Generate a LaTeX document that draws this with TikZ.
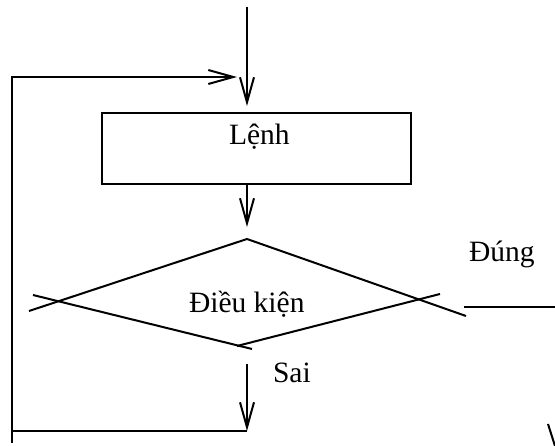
\documentclass[tikz,border=0pt]{standalone}
\usepackage{fontspec}
\setmainfont{Liberation Serif}
\usetikzlibrary{arrows.meta}
\begin{document}
\begin{tikzpicture}[x=1pt,y=-1pt,
  line width=2pt,
  ln/.style={line width=2pt},
  arr/.style={ln,-{Straight Barb[length=25pt,width=14pt,line width=2pt]}},
  txt/.style={anchor=base west,inner sep=0pt,font=\fontsize{29.5}{34}\selectfont},
  box/.style={draw,line width=2pt,minimum width=309pt,minimum height=71pt,inner sep=0pt}
]
\useasboundingbox (0,0) rectangle (555,446);
% nodes
\coordinate (start) at (247,7);
\node[box] (lenh) at (256.5,148.5) {};
\node[txt] (lenhtxt) at (228,145) {Lệnh};
\coordinate (dtop) at (247,239);
\coordinate (dleftA) at (29,311);
\coordinate (dleftB) at (33,295);
\coordinate (dbotA) at (252,349);
\coordinate (dbotB) at (237,346);
\coordinate (drightA) at (440,294);
\coordinate (drightB) at (466,316);
\node[txt] (cond) at (188,313) {Điều kiện};
\node[txt] (dung) at (468,262) {Đúng};
\node[txt] (sai) at (272,383) {Sai};
\coordinate (saistart) at (247,364);
\coordinate (saiend) at (247,431);
\coordinate (loopbl) at (12,431);
\coordinate (loopend) at (12,443);
\coordinate (looptl) at (12,77);
\coordinate (looptip) at (237,77);
\coordinate (dungA) at (464,307);
\coordinate (dungB) at (555,307);
\coordinate (cutA) at (548,424);
\coordinate (cutB) at (555,446);
% connectors
\draw[arr,shorten >=6pt] (start) -- (start |- lenh.north);
\draw[arr,shorten >=12pt] (dtop |- lenh.south) -- (dtop);
% diamond (overshooting strokes)
\draw[ln] (dtop) -- (dleftA);
\draw[ln] (dleftB) -- (dbotA);
\draw[ln] (dbotB) -- (drightA);
\draw[ln] (dtop) -- (drightB);
% false branch
\draw[arr] (saistart) -- (saiend);
\draw[ln] (saiend) -- (loopbl);
\draw[arr] (loopend) -- (looptl) -- (looptip);
% true branch
\draw[ln] (dungA) -- (dungB);
\draw[ln] (cutA) -- (cutB);
\end{tikzpicture}
\end{document}
